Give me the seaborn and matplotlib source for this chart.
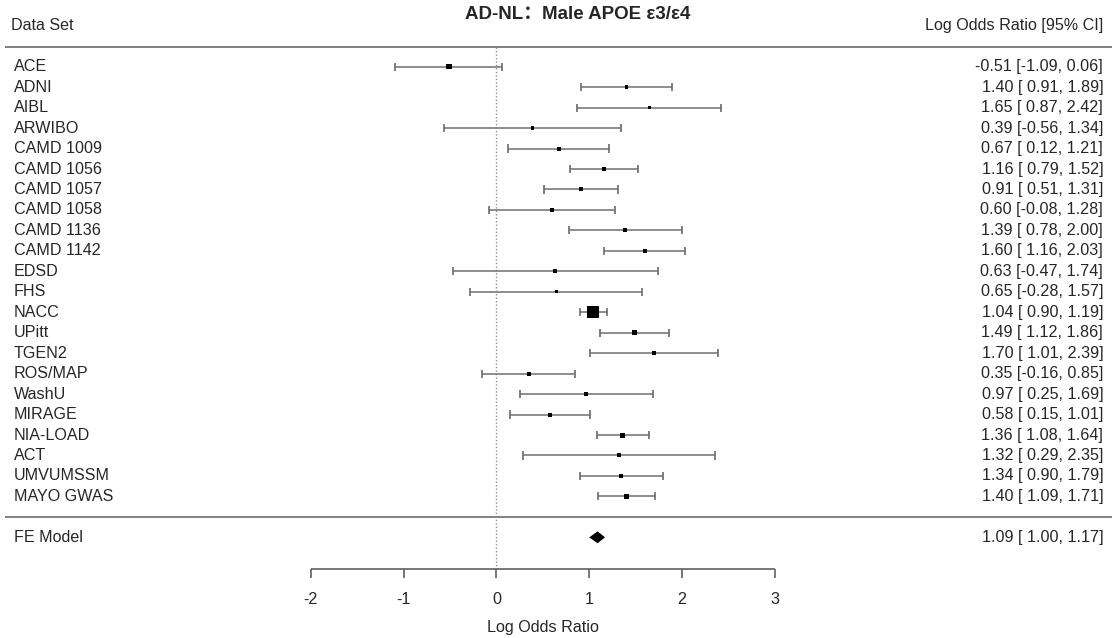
import numpy as np
import pandas as pd
import matplotlib
matplotlib.use("Agg")
import matplotlib.pyplot as plt
import seaborn as sns

# data
studies = ["ACE", "ADNI", "AIBL", "ARWIBO", "CAMD 1009", "CAMD 1056", "CAMD 1057",
           "CAMD 1058", "CAMD 1136", "CAMD 1142", "EDSD", "FHS", "NACC", "UPitt",
           "TGEN2", "ROS/MAP", "WashU", "MIRAGE", "NIA-LOAD", "ACT", "UMVUMSSM",
           "MAYO GWAS"]
log_or = [-0.51, 1.40, 1.65, 0.39, 0.67, 1.16, 0.91, 0.60, 1.39, 1.60, 0.63, 0.65,
          1.04, 1.49, 1.70, 0.35, 0.97, 0.58, 1.36, 1.32, 1.34, 1.40]
ci_low = [-1.09, 0.91, 0.87, -0.56, 0.12, 0.79, 0.51, -0.08, 0.78, 1.16, -0.47, -0.28,
          0.90, 1.12, 1.01, -0.16, 0.25, 0.15, 1.08, 0.29, 0.90, 1.09]
ci_high = [0.06, 1.89, 2.42, 1.34, 1.21, 1.52, 1.31, 1.28, 2.00, 2.03, 1.74, 1.57,
           1.19, 1.86, 2.39, 0.85, 1.69, 1.01, 1.64, 2.35, 1.79, 1.71]
# relative weights (square area)
weights = [30, 12, 8, 12, 16, 16, 16, 16, 16, 16, 16, 11, 144, 25, 16, 16, 16, 16,
           25, 16, 16, 20]
fe_est, fe_low, fe_high = 1.09, 1.00, 1.17

df = pd.DataFrame({"study": studies, "est": log_or, "lo": ci_low, "hi": ci_high,
                   "w": weights})
df["row"] = np.arange(len(df))

sns.set_theme(style="white")
plt.rcParams["font.family"] = ["Liberation Sans", "DejaVu Sans"]
fs = 11.6

fig = plt.figure(figsize=(11.12, 6.38), dpi=100)
ax = fig.add_axes([0, 0, 1, 1])

line_col = "#808080"
x_left, x_right = -5.29, 6.63
x_name, x_txt = -5.195, 6.535

# header + separator lines
ax.hlines([-0.98, 22.0], x_left, x_right, color=line_col, lw=1.4)
# reference line at 0
ax.vlines(0, -0.98, 24.6, color="#909090", lw=1.0, linestyles=(0, (1, 1.5)))

# confidence intervals with end caps
ax.hlines(df["row"], df["lo"], df["hi"], color="#7a7a7a", lw=1.2)
ax.vlines(df["lo"], df["row"] - 0.2, df["row"] + 0.2, color="#6a6a6a", lw=1.2)
ax.vlines(df["hi"], df["row"] - 0.2, df["row"] + 0.2, color="#6a6a6a", lw=1.2)

# study squares sized by weight
sns.scatterplot(data=df, x="est", y="row", size="w", sizes=(0, 75),
                size_norm=(0, max(weights)), marker="s", color="black",
                linewidth=0, legend=False, ax=ax, zorder=5)

# fixed-effect diamond
fe_row = 23
ax.fill([fe_low, fe_est, fe_high, fe_est],
        [fe_row, fe_row - 0.29, fe_row, fe_row + 0.29], color="black", lw=0)

# texts
for _, r in df.iterrows():
    ax.text(x_name, r["row"], r["study"], ha="left", va="center", fontsize=fs)
    ax.text(x_txt, r["row"], f"{r['est']:.2f} [{r['lo']:5.2f}, {r['hi']:.2f}]",
            ha="right", va="center", fontsize=fs)
ax.text(x_name, fe_row, "FE Model", ha="left", va="center", fontsize=fs)
ax.text(x_txt, fe_row, f"{fe_est:.2f} [{fe_low:5.2f}, {fe_high:.2f}]",
        ha="right", va="center", fontsize=fs)

ax.text(-5.23, -1.99, "Data Set", ha="left", va="center", fontsize=fs)
ax.text(x_txt, -1.99, "Log Odds Ratio [95% CI]", ha="right", va="center", fontsize=fs)
ax.text(0.88, -2.55, "AD-NL：Male APOE ε3/ε4", ha="center", va="center",
        fontsize=13.5, fontweight="bold", family=["Liberation Sans", "Noto Sans CJK SC"])

# bottom x axis
ticks = [-2, -1, 0, 1, 2, 3]
ax_row = 24.55
ax.hlines(ax_row, ticks[0], ticks[-1], color="#606060", lw=1.2)
ax.vlines(ticks, ax_row, ax_row + 0.42, color="#606060", lw=1.2)
for t in ticks:
    ax.text(t, 26.05, f"{t}", ha="center", va="center", fontsize=fs)
ax.text(0.5, 27.43, "Log Odds Ratio", ha="center", va="center", fontsize=fs)

ax.set_xlim(-5.346, 6.63)
ax.set_ylim(27.92, -3.26)
ax.axis("off")

fig.savefig("out.png", dpi=100)
